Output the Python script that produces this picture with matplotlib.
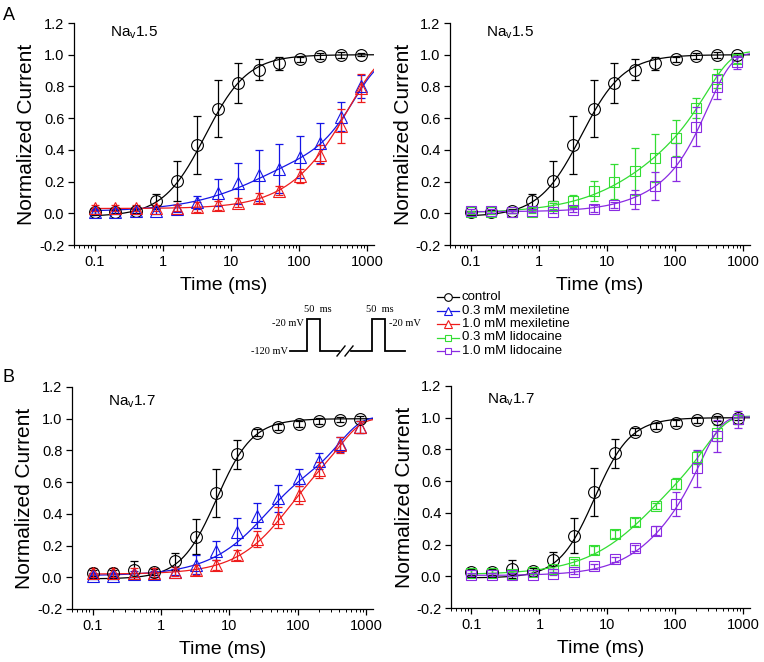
import matplotlib
matplotlib.use("Agg")
import matplotlib.pyplot as plt
from matplotlib.ticker import LogLocator, FuncFormatter, MultipleLocator, NullFormatter
import numpy as np

plt.rcParams["font.family"] = ["Liberation Sans", "DejaVu Sans"]
plt.rcParams["mathtext.fontset"] = "custom"
plt.rcParams["mathtext.rm"] = "Liberation Sans"

# ----------------------------------------------------------------------------
# Data: recovery from inactivation
# ----------------------------------------------------------------------------
T = [0.1, 0.2, 0.4, 0.8, 1.6, 3.2, 6.4, 12.8, 25.6, 51.2, 102.4, 204.8, 409.6, 819.2]

# Nav1.5
CTRL_15 = [0.005, 0.01, 0.015, 0.075, 0.205, 0.43, 0.66, 0.82, 0.905, 0.945, 0.97, 0.99, 1.0, 1.0]
CTRL_15_E = [0.01, 0.01, 0.015, 0.045, 0.125, 0.185, 0.18, 0.125, 0.065, 0.04, 0.015, 0.02, 0.02, 0.01]
MEX03_15 = [0.01, 0.01, 0.015, 0.015, 0.03, 0.07, 0.13, 0.19, 0.24, 0.28, 0.355, 0.445, 0.61, 0.80]
MEX03_15_E = [0.015, 0.015, 0.02, 0.02, 0.02, 0.04, 0.085, 0.13, 0.16, 0.155, 0.135, 0.125, 0.09, 0.07]
MEX10_15 = [0.035, 0.035, 0.035, 0.035, 0.035, 0.04, 0.05, 0.067, 0.095, 0.143, 0.235, 0.37, 0.55, 0.79]
MEX10_15_E = [0.02, 0.02, 0.02, 0.02, 0.02, 0.03, 0.03, 0.03, 0.03, 0.03, 0.045, 0.06, 0.105, 0.09]
LID03_15 = [0.005, 0.005, 0.01, 0.01, 0.045, 0.078, 0.14, 0.2, 0.264, 0.349, 0.475, 0.665, 0.848, 0.97]
LID03_15_E = [0.01, 0.01, 0.01, 0.01, 0.02, 0.04, 0.065, 0.11, 0.15, 0.15, 0.115, 0.065, 0.06, 0.02]
LID10_15 = [0.015, 0.015, 0.01, 0.015, 0.01, 0.02, 0.03, 0.053, 0.089, 0.173, 0.321, 0.547, 0.795, 0.953]
LID10_15_E = [0.015, 0.015, 0.01, 0.01, 0.01, 0.015, 0.02, 0.02, 0.06, 0.09, 0.12, 0.125, 0.075, 0.04]

# Nav1.7
CTRL_17 = [0.025, 0.025, 0.046, 0.035, 0.1, 0.256, 0.532, 0.776, 0.912, 0.948, 0.968, 0.985, 0.994, 1.0]
CTRL_17_E = [0.02, 0.02, 0.055, 0.02, 0.055, 0.11, 0.15, 0.09, 0.02, 0.02, 0.02, 0.02, 0.015, 0.015]
MEX03_17 = [0.01, 0.01, 0.02, 0.02, 0.035, 0.078, 0.168, 0.288, 0.389, 0.498, 0.628, 0.733, 0.838, 0.948]
MEX03_17_E = [0.02, 0.02, 0.02, 0.02, 0.02, 0.06, 0.06, 0.085, 0.08, 0.085, 0.055, 0.05, 0.045, 0.04]
MEX10_17 = [0.03, 0.03, 0.03, 0.03, 0.035, 0.046, 0.078, 0.141, 0.242, 0.376, 0.519, 0.676, 0.833, 0.948]
MEX10_17_E = [0.03, 0.03, 0.03, 0.03, 0.03, 0.03, 0.03, 0.03, 0.05, 0.065, 0.055, 0.05, 0.05, 0.04]
LID03_17 = [0.02, 0.02, 0.017, 0.027, 0.048, 0.09, 0.164, 0.266, 0.344, 0.444, 0.585, 0.75, 0.905, 0.99]
LID03_17_E = [0.02, 0.02, 0.015, 0.015, 0.02, 0.02, 0.025, 0.025, 0.025, 0.02, 0.035, 0.04, 0.05, 0.03]
LID10_17 = [0.01, 0.01, 0.01, 0.01, 0.015, 0.03, 0.063, 0.106, 0.177, 0.288, 0.456, 0.68, 0.886, 0.99]
LID10_17_E = [0.01, 0.01, 0.01, 0.01, 0.01, 0.015, 0.015, 0.015, 0.02, 0.03, 0.075, 0.115, 0.1, 0.055]

# Fit parameters: offset + components (kind, amplitude, tau / t50, exponent)
FIT_CTRL_15 = (-0.02, [("hill", 1.02, 4.2, 1.4)])
FIT_MEX03_15 = (0.01, [("exp", 0.28, 20, 0.7), ("exp", 0.68, 650, 1.2)])
FIT_MEX10_15 = (0.03, [("exp", 0.08, 80, 1.0), ("exp", 0.89, 550, 1.0)])
FIT_LID03_15 = (0.0, [("exp", 0.35, 25, 0.7), ("exp", 0.67, 300, 1.2)])
FIT_LID10_15 = (0.01, [("exp", 0.06, 20, 1.0), ("exp", 0.94, 300, 1.2)])
FIT_CTRL_17 = (-0.01, [("hill", 1.01, 6.5, 1.65)])
FIT_MEX03_17 = (0.01, [("exp", 0.55, 30, 0.9), ("exp", 0.45, 400, 1.3)])
FIT_MEX10_17 = (0.02, [("exp", 0.5, 55, 1.0), ("exp", 0.48, 400, 1.3)])
FIT_LID03_17 = (0.01, [("exp", 0.48, 28, 0.8), ("exp", 0.52, 280, 1.3)])
FIT_LID10_17 = (0.005, [("exp", 0.25, 40, 1.0), ("exp", 0.75, 240, 1.4)])

LABELS = ["control", "0.3 mM mexiletine", "1.0 mM mexiletine",
          "0.3 mM lidocaine", "1.0 mM lidocaine"]
COLORS = ["#000000", "#1515E6", "#EE1C1C", "#33DD33", "#8A2BE2"]
MARKERS = ["o", "^", "^", "s", "s"]
MSIZE = {"o": 8.5, "^": 9.0, "s": 7.5}


def fit_curve(t, fit):
    c, comps = fit
    y = np.full_like(t, c)
    for kind, a, tau, p in comps:
        if kind == "hill":
            y += a / (1.0 + (tau / t) ** p)
        else:
            y += a * (1.0 - np.exp(-(t / tau) ** p))
    return y


def series(ax, y, e, fit, idx):
    col, mk = COLORS[idx], MARKERS[idx]
    tt = np.geomspace(0.09, 1250, 400)
    ax.plot(tt, fit_curve(tt, fit), color=col, lw=0.9, zorder=2)
    ax.errorbar(T, y, yerr=e, fmt="none", ecolor=col, elinewidth=0.9,
                capsize=2.6, capthick=0.9, zorder=3)
    ax.plot(T, y, ls="none", marker=mk, ms=MSIZE[mk], mfc="none", mec=col,
            mew=0.8, zorder=4)


def style(ax, title, ty):
    ax.set_xscale("log")
    ax.set_xlim(0.05, 1250)
    ax.set_ylim(-0.2, 1.2)
    ax.spines["top"].set_visible(False)
    ax.spines["right"].set_visible(False)
    for s in ("left", "bottom"):
        ax.spines[s].set_linewidth(0.9)
    ax.yaxis.set_major_locator(MultipleLocator(0.2))
    ax.yaxis.set_major_formatter(FuncFormatter(lambda v, _: f"{v:.1f}"))
    ax.xaxis.set_major_locator(LogLocator(base=10, numticks=10))
    ax.xaxis.set_minor_locator(LogLocator(base=10, subs=np.arange(2, 10), numticks=20))
    ax.xaxis.set_minor_formatter(NullFormatter())
    ax.xaxis.set_major_formatter(FuncFormatter(lambda v, _: f"{v:g}"))
    ax.tick_params(which="major", direction="out", length=4, width=0.9, labelsize=10.5, pad=3)
    ax.tick_params(which="minor", direction="out", length=2.3, width=0.7)
    ax.set_ylabel("Normalized Current", fontsize=15)
    ax.set_xlabel("Time (ms)", fontsize=14)
    ax.yaxis.set_label_coords(-0.125, 0.5)
    ax.xaxis.set_label_coords(0.5, -0.145)
    ax.text(0.12, ty, title, transform=ax.transAxes, fontsize=11, va="center", ha="left")


W, H = 764, 662
fig = plt.figure(figsize=(W / 100, H / 100), dpi=100)


def px_axes(l, t, r, b):
    return fig.add_axes([l / W, 1 - b / H, (r - l) / W, (b - t) / H])


ax1 = px_axes(74, 23, 374, 245)
ax2 = px_axes(450, 23, 750, 245)
ax3 = px_axes(72, 387, 373, 609)
ax4 = px_axes(451, 386, 750, 608)

series(ax1, CTRL_15, CTRL_15_E, FIT_CTRL_15, 0)
series(ax1, MEX03_15, MEX03_15_E, FIT_MEX03_15, 1)
series(ax1, MEX10_15, MEX10_15_E, FIT_MEX10_15, 2)
style(ax1, r"Na$_{\rm v}$1.5", 0.955)

series(ax2, CTRL_15, CTRL_15_E, FIT_CTRL_15, 0)
series(ax2, LID03_15, LID03_15_E, FIT_LID03_15, 3)
series(ax2, LID10_15, LID10_15_E, FIT_LID10_15, 4)
style(ax2, r"Na$_{\rm v}$1.5", 0.955)

series(ax3, CTRL_17, CTRL_17_E, FIT_CTRL_17, 0)
series(ax3, MEX03_17, MEX03_17_E, FIT_MEX03_17, 1)
series(ax3, MEX10_17, MEX10_17_E, FIT_MEX10_17, 2)
style(ax3, r"Na$_{\rm v}$1.7", 0.935)

series(ax4, CTRL_17, CTRL_17_E, FIT_CTRL_17, 0)
series(ax4, LID03_17, LID03_17_E, FIT_LID03_17, 3)
series(ax4, LID10_17, LID10_17_E, FIT_LID10_17, 4)
style(ax4, r"Na$_{\rm v}$1.7", 0.94)

fig.text(3 / W, 1 - 15 / H, "A", fontsize=13, va="center", ha="left")
fig.text(3 / W, 1 - 377 / H, "B", fontsize=13, va="center", ha="left")

# overlay in pixel coordinates for the protocol sketch and legend
ov = fig.add_axes([0, 0, 1, 1])
ov.set_xlim(0, W)
ov.set_ylim(H, 0)
ov.axis("off")

kw = dict(color="black", lw=1.3, solid_joinstyle="miter")
ov.plot([290, 307, 307, 320, 320, 339], [351, 351, 319, 319, 351, 351], **kw)
ov.plot([351, 372, 372, 385, 385, 405], [351, 351, 319, 319, 351, 351], **kw)
ov.plot([337, 345], [356, 346], color="black", lw=1.0)
ov.plot([345, 353], [356, 346], color="black", lw=1.0)
serif = dict(family="Liberation Serif", fontsize=7.5)
ov.text(288, 351, "-120 mV", ha="right", va="center", **serif)
ov.text(304, 323, "-20 mV", ha="right", va="center", **serif)
ov.text(389, 323, "-20 mV", ha="left", va="center", **serif)
ov.text(318, 310, "50  ms", ha="center", va="center", **serif)
ov.text(380, 310, "50  ms", ha="center", va="center", **serif)

for i, lab in enumerate(LABELS):
    yy = 297 + i * 13.5
    ov.plot([437, 459], [yy, yy], color=COLORS[i], lw=0.9)
    ov.plot([448], [yy], marker=MARKERS[i], ms=5.5 if MARKERS[i] != "s" else 5,
            mfc="white", mec=COLORS[i], mew=0.8)
    ov.text(462, yy, lab, fontsize=9.5, va="center", ha="left")

fig.savefig("out.png", dpi=100)
